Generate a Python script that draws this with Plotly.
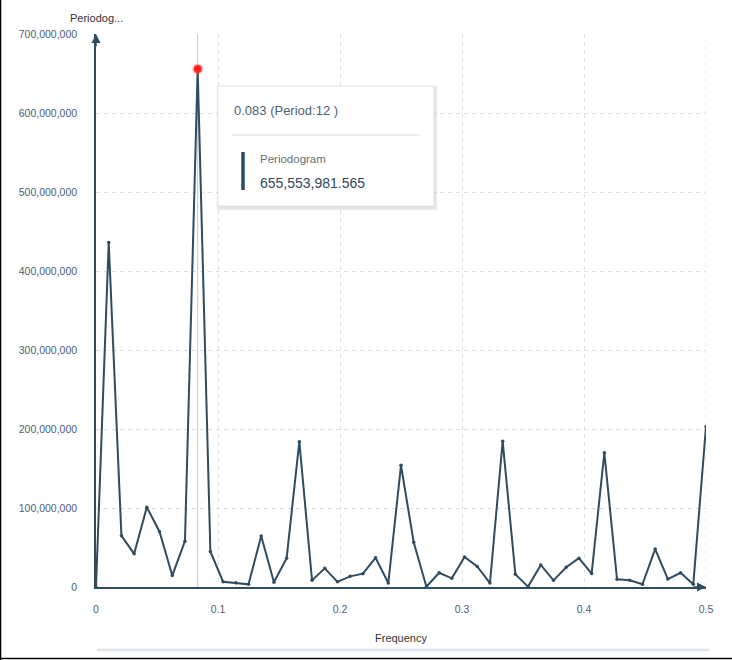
import plotly.graph_objects as go

# ---- data ----
frequency = [0, 0.010417, 0.020833, 0.03125, 0.041667, 0.052083, 0.0625, 0.072917,
             0.083333, 0.09375, 0.104167, 0.114583, 0.125, 0.135417, 0.145833, 0.15625,
             0.166667, 0.177083, 0.1875, 0.197917, 0.208333, 0.21875, 0.229167, 0.239583,
             0.25, 0.260417, 0.270833, 0.28125, 0.291667, 0.302083, 0.3125, 0.322917,
             0.333333, 0.34375, 0.354167, 0.364583, 0.375, 0.385417, 0.395833, 0.40625,
             0.416667, 0.427083, 0.4375, 0.447917, 0.458333, 0.46875, 0.479167, 0.489583, 0.5]
periodogram = [0, 436e6, 65e6, 42e6, 101e6, 70e6, 14.5e6, 58e6,
               655553981.565, 45e6, 6.7e6, 5.5e6, 3.4e6, 64.5e6, 5.9e6, 36.5e6,
               184e6, 8.4e6, 23.6e6, 6.5e6, 13.5e6, 16.9e6, 37e6, 5e6,
               154e6, 56.5e6, 0.3e6, 18e6, 11e6, 38e6, 26e6, 5e6,
               184.4e6, 16e6, 0.5e6, 28e6, 8.4e6, 25e6, 36.5e6, 17e6,
               170e6, 9.7e6, 8.4e6, 3.4e6, 48e6, 10e6, 18e6, 3.4e6, 203e6]
x_ticks = [0, 0.1, 0.2, 0.3, 0.4, 0.5]
x_tick_labels = ["0", "0.1", "0.2", "0.3", "0.4", "0.5"]
y_ticks = [0, 100e6, 200e6, 300e6, 400e6, 500e6, 600e6, 700e6]
y_tick_labels = ["0", "100,000,000", "200,000,000", "300,000,000", "400,000,000",
                 "500,000,000", "600,000,000", "700,000,000"]
highlight_index = 8

LINE = "#2f4c62"
TXT = "#4f6073"
FONT = "Liberation Sans, Arial, sans-serif"

W, H = 732, 660
L, R, T, B = 96, 26, 34, 73
PW, PH = W - L - R, H - T - B


def px(xp):
    return (xp - L) / PW


def py(yp):
    return (H - B - yp) / PH


fig = go.Figure()
fig.add_trace(go.Scatter(
    x=frequency, y=periodogram, mode="lines+markers",
    line=dict(color=LINE, width=2),
    marker=dict(color=LINE, size=3.5),
    hoverinfo="skip", showlegend=False))

hx, hy = frequency[highlight_index], periodogram[highlight_index]
fig.add_trace(go.Scatter(
    x=[hx], y=[hy], mode="markers",
    marker=dict(color="#ff1a1a", size=8, line=dict(color="rgba(255,80,80,0.35)", width=3)),
    hoverinfo="skip", showlegend=False))

shapes = []
# right-edge dashed gridline
shapes.append(dict(type="line", xref="x", yref="paper", x0=x_ticks[-1], x1=x_ticks[-1], y0=0, y1=1,
                   line=dict(color="#dedede", width=1, dash="4px,4px"), layer="below"))
# crosshair
shapes.append(dict(type="line", xref="x", yref="paper", x0=hx, x1=hx, y0=0, y1=1,
                   line=dict(color="#c9c9c9", width=1), layer="below"))
# tooltip shadow + box
bx0, bx1, by0, by1 = 218, 434, 86, 206
for i, a in enumerate([0.025, 0.035, 0.05]):
    d = 3 - i
    shapes.append(dict(type="rect", xref="paper", yref="paper",
                       x0=px(bx0 - d + 1), x1=px(bx1 + d + 1), y0=py(by1 + d + 2), y1=py(by0 - d + 2),
                       line=dict(width=0), fillcolor=f"rgba(0,0,0,{a})"))
shapes.append(dict(type="rect", xref="paper", yref="paper",
                   x0=px(bx0), x1=px(bx1), y0=py(by1), y1=py(by0),
                   line=dict(color="#e4e4e4", width=1), fillcolor="white"))
shapes.append(dict(type="line", xref="paper", yref="paper",
                   x0=px(232), x1=px(420), y0=py(135), y1=py(135),
                   line=dict(color="#dddddd", width=1)))
shapes.append(dict(type="line", xref="paper", yref="paper",
                   x0=px(243), x1=px(243), y0=py(152), y1=py(190),
                   line=dict(color="#2b4b62", width=3.5)))
# bottom slider line
shapes.append(dict(type="line", xref="paper", yref="paper",
                   x0=px(97), x1=px(709), y0=py(650), y1=py(650),
                   line=dict(color="#dfe4ea", width=2.5)))
# frame (left + bottom)
shapes.append(dict(type="line", xref="paper", yref="paper",
                   x0=px(0.5), x1=px(0.5), y0=py(660), y1=py(0),
                   line=dict(color="black", width=1.5)))
shapes.append(dict(type="line", xref="paper", yref="paper",
                   x0=px(0), x1=px(732), y0=py(658.5), y1=py(658.5),
                   line=dict(color="black", width=1.5)))

annotations = []
period = round(1 / hx)
annotations.append(dict(xref="paper", yref="paper", x=px(232), y=py(110),
                        text=f"{hx:.3f} (Period:{period} )", showarrow=False,
                        xanchor="left", yanchor="middle",
                        font=dict(family=FONT, size=13, color=TXT)))
annotations.append(dict(xref="paper", yref="paper", x=px(258), y=py(159),
                        text="Periodogram", showarrow=False,
                        xanchor="left", yanchor="middle",
                        font=dict(family=FONT, size=11.5, color="#666f78")))
annotations.append(dict(xref="paper", yref="paper", x=px(258), y=py(183),
                        text=f"{hy:,.3f}", showarrow=False,
                        xanchor="left", yanchor="middle",
                        font=dict(family=FONT, size=14, color="#33475b")))
annotations.append(dict(xref="paper", yref="paper", x=px(96), y=py(18),
                        text="Periodog...", showarrow=False,
                        xanchor="center", yanchor="middle",
                        font=dict(family=FONT, size=11, color="#333333")))
annotations.append(dict(xref="paper", yref="paper", x=0.5, y=py(638),
                        text="Frequency", showarrow=False,
                        xanchor="center", yanchor="middle",
                        font=dict(family=FONT, size=11, color="#333333")))
# axis arrows
annotations.append(dict(x=0, y=y_ticks[-1], xref="x", yref="y", ax=0, ay=14,
                        showarrow=True, arrowhead=2, arrowsize=1.2, arrowwidth=1.5,
                        arrowcolor=LINE, text=""))
annotations.append(dict(x=x_ticks[-1], y=0, xref="x", yref="y", ax=-14, ay=0,
                        showarrow=True, arrowhead=2, arrowsize=1.2, arrowwidth=1.5,
                        arrowcolor=LINE, text=""))

fig.update_layout(
    width=W, height=H,
    margin=dict(l=L, r=R, t=T, b=B),
    paper_bgcolor="white", plot_bgcolor="white",
    font=dict(family=FONT, size=10, color=TXT),
    shapes=shapes, annotations=annotations,
    xaxis=dict(range=[0, 0.5], tickvals=x_ticks, ticktext=x_tick_labels,
               showgrid=True, gridcolor="#dedede", griddash="4px,4px", gridwidth=1,
               zeroline=False, showline=True, linecolor=LINE, linewidth=1.5,
               ticks="", ticklabelstandoff=12, tickfont=dict(size=10.5, color=TXT)),
    yaxis=dict(range=[0, 700e6], tickvals=y_ticks, ticktext=y_tick_labels,
               showgrid=True, gridcolor="#dedede", griddash="4px,4px", gridwidth=1,
               zeroline=False, showline=True, linecolor=LINE, linewidth=1.5,
               ticks="", ticklabelstandoff=15, tickfont=dict(size=10.5, color=TXT)),
)

fig.write_html("out.html")
